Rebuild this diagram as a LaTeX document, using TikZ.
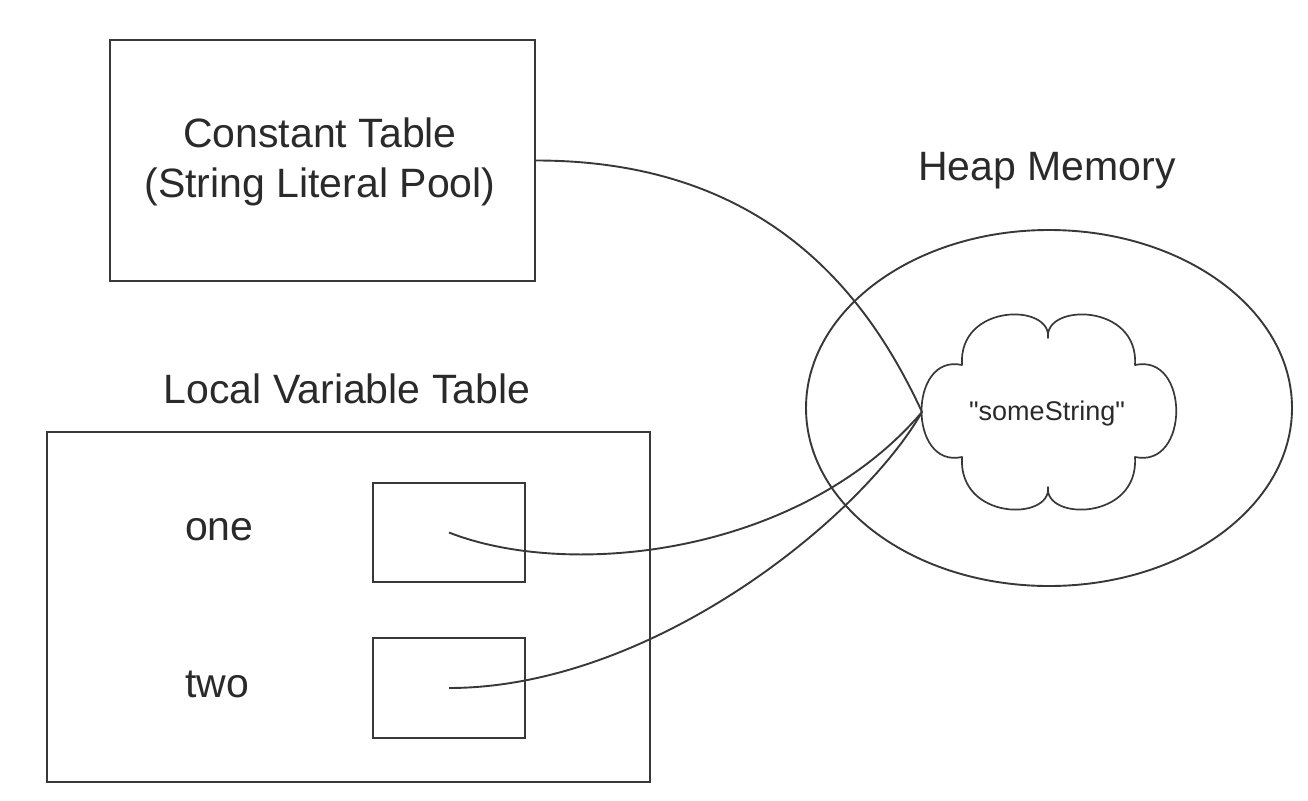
\documentclass[tikz,border=0pt]{standalone}
\usepackage{fontspec}
\setmainfont{Liberation Sans}
\setmonofont{Liberation Sans}
\usetikzlibrary{shapes.geometric}
\definecolor{linec}{HTML}{383838}
\definecolor{textc}{HTML}{2A2A2A}
\begin{document}
\begin{tikzpicture}[x=1pt,y=-1pt,
  boxstyle/.style={draw=linec, line width=2.3pt, inner sep=0pt, rectangle},
  lbl/.style={text=textc, font=\fontsize{41}{50}\selectfont, inner sep=0pt, anchor=base},
  small/.style={text=textc, font=\ttfamily\fontsize{27}{32}\selectfont, inner sep=0pt, anchor=base},
  link/.style={draw=linec, line width=1.9pt},
  heapstyle/.style={draw=linec, line width=1.9pt, ellipse, inner sep=0pt},
  cloudline/.style={draw=linec, line width=1.7pt, line join=round}]
\useasboundingbox (0,0) rectangle (1308,800);
% constant table
\node[boxstyle, minimum width=425pt, minimum height=241pt] (const) at (322.5,160.5) {};
\node[lbl] (constA) at (320,147) {Constant Table};
\node[lbl] (constB) at (320,197) {(String Literal Pool)};
% heap
\node[lbl] (heapT) at (1047,180) {Heap Memory};
\node[heapstyle, minimum width=486pt, minimum height=356pt] (heap) at (1049,408) {};
\draw[cloudline] (962,365) .. controls (958,303) and (1052,303) .. (1048,338)
  .. controls (1044,303) and (1139,303) .. (1135,365)
  .. controls (1190,353) and (1190,469) .. (1135,457)
  .. controls (1139,521) and (1044,521) .. (1048,487)
  .. controls (1052,521) and (958,521) .. (962,457)
  .. controls (908,469) and (908,353) .. (962,365) -- cycle;
\node[small] (str) at (1047,420) {"someString"};
\coordinate (cloudw) at (922,412);
% local variable table
\node[lbl] (localT) at (347,403) {Local Variable Table};
\node[boxstyle, minimum width=603pt, minimum height=350pt] (local) at (348.5,607) {};
\node[boxstyle, minimum width=152pt, minimum height=99pt] (one) at (449,532.5) {};
\node[boxstyle, minimum width=152pt, minimum height=100pt] (two) at (449,688) {};
\node[lbl, anchor=base west] (oneT) at (185,540) {one};
\node[lbl, anchor=base west] (twoT) at (185,697) {two};
% connectors
\draw[link] (const.east) .. controls +(235,0) and +(-52,-112) .. (cloudw);
\draw[link] (one.center) .. controls +(121,47.5) and +(-122,143) .. (cloudw);
\draw[link] (two.center) .. controls +(201,0) and +(-62,108) .. (cloudw);
\end{tikzpicture}
\end{document}
